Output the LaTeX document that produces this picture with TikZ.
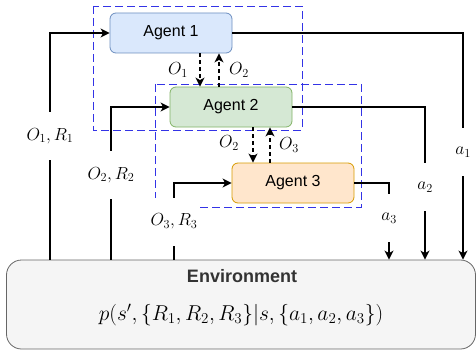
\documentclass[tikz,border=0pt]{standalone}
\usepackage{fix-cm}
\usepackage{fontspec}
\setmainfont{Liberation Sans}
\usetikzlibrary{arrows.meta}
\definecolor{a1fill}{HTML}{DAE8FC}
\definecolor{a1draw}{HTML}{6C8EBF}
\definecolor{a2fill}{HTML}{D5E8D4}
\definecolor{a2draw}{HTML}{82B366}
\definecolor{a3fill}{HTML}{FFE6CC}
\definecolor{a3draw}{HTML}{D79B00}
\definecolor{envfill}{HTML}{F5F5F5}
\definecolor{envdraw}{HTML}{666666}
\definecolor{envtext}{HTML}{333333}
\definecolor{grpblue}{HTML}{3333E6}
\tikzset{
  agent/.style={draw, rounded corners=6pt, minimum width=122pt, minimum height=40pt, inner sep=0pt, line width=0.8pt, font=\fontsize{16}{19}\selectfont},
  envbox/.style={draw=envdraw, fill=envfill, rounded corners=15pt, minimum width=469pt, minimum height=89pt, inner sep=0pt, line width=0.8pt},
  grp/.style={draw=grpblue, line width=0.8pt, dash pattern=on 8pt off 4pt},
  arr/.style={line width=1.3pt, -{Stealth[length=9pt,width=9pt,inset=2.5pt]}},
  darr/.style={line width=1.3pt, dash pattern=on 4pt off 3pt, -{Stealth[length=9pt,width=9pt,inset=2.5pt]}},
  lab/.style={fill=white, inner sep=1pt, minimum height=48pt, font=\fontsize{17.5}{20}\selectfont},
  slab/.style={inner sep=1pt, font=\fontsize{17.5}{20}\selectfont},
}
\begin{document}
\begin{tikzpicture}[x=1pt,y=-1pt]
\useasboundingbox (0,0) rectangle (476,350);
% group boxes
\draw[grp] (93,6) rectangle (302,130);
\draw[grp] (155,84) rectangle (361,207);
% nodes
\node[agent, fill=a1fill, draw=a1draw] (A1) at (171,33) {Agent 1};
\node[agent, fill=a2fill, draw=a2draw] (A2) at (231,107) {Agent 2};
\node[agent, fill=a3fill, draw=a3draw] (A3) at (293,183) {Agent 3};
\node[envbox] (Env) at (241,304.5) {};
\node[font=\fontsize{18}{21}\selectfont\bfseries, text=envtext] (EnvT) at (242,276) {Environment};
\node[font=\fontsize{21.5}{25}\selectfont] (EnvF) at (241,315) {$p(s',\{R_1,R_2,R_3\}|s,\{a_1,a_2,a_3\})$};
% coordinates for vertical lines
\coordinate (x1) at (50,0);
\coordinate (x2) at (111,0);
\coordinate (x3) at (174,0);
\coordinate (y1) at (463,0);
\coordinate (y2) at (425,0);
\coordinate (y3) at (389,0);
% observations to agents
\draw[arr] (x1 |- Env.north) |- (A1.west);
\draw[arr] (x2 |- Env.north) |- (A2.west);
\draw[arr] (x3 |- Env.north) |- (A3.west);
% actions to environment
\draw[arr] (A1.east) -| (y1 |- Env.north);
\draw[arr] (A2.east) -| (y2 |- Env.north);
\draw[arr] (A3.east) -| (y3 |- Env.north);
% labels on lines
\node[lab] (L1) at (50,136) {$O_1,R_1$};
\node[lab] (L2) at (111,175) {$O_2,R_2$};
\node[lab] (L3) at (174,221.5) {$O_3,R_3$};
\node[lab] (La1) at (463,152) {$a_1$};
\node[lab] (La2) at (425,187) {$a_2$};
\node[lab] (La3) at (389,218) {$a_3$};
% communication
\draw[darr] ([xshift=29pt]A1.south) -- ([xshift=29pt]A1.south |- A2.north);
\draw[darr] ([xshift=48pt]A1.south |- A2.north) -- ([xshift=48pt]A1.south);
\draw[darr] ([xshift=22pt]A2.south) -- ([xshift=22pt]A2.south |- A3.north);
\draw[darr] ([xshift=39pt]A2.south |- A3.north) -- ([xshift=39pt]A2.south);
\node[slab] (c1) at (178,70) {$O_1$};
\node[slab] (c2) at (239,70) {$O_2$};
\node[slab] (c3) at (229,143) {$O_2$};
\node[slab] (c4) at (289,145) {$O_3$};
\end{tikzpicture}
\end{document}
